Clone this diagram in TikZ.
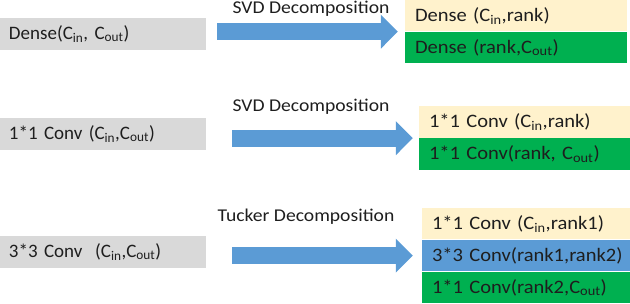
\documentclass[tikz,border=0pt]{standalone}
\usepackage{fontspec}
\setmainfont{Carlito}
\newfontfamily\cellfont{Carlito}[FakeStretch=1.08]
\newfontfamily\notefont{Carlito}[FakeStretch=1.09]
\usepackage{tikz}
\usepackage{xcolor}
\usetikzlibrary{positioning,arrows.meta}
\definecolor{boxgray}{HTML}{D9D9D9}
\definecolor{arrowblue}{HTML}{5B9BD5}
\definecolor{cellbeige}{HTML}{FFF2CC}
\definecolor{cellgreen}{HTML}{00B050}
\definecolor{inkdark}{HTML}{1E1E1E}

\tikzset{
  layer/.style={fill=boxgray, minimum height=32pt, inner xsep=9pt,
                text width=188pt, align=left, text=inkdark,
                font=\fontsize{19}{21}\selectfont},
  cell/.style={minimum height=31.5pt, inner xsep=10pt, align=left,
               text=inkdark, font=\cellfont\fontsize{19}{21}\selectfont},
  note/.style={text=inkdark, font=\notefont\fontsize{18}{20}\selectfont},
  bigarrow/.style={draw=arrowblue, line width=17pt,
                   -{Triangle[length=17pt, width=33pt]}}
}

\begin{document}
\begin{tikzpicture}[x=1pt, y=-1pt]
    \useasboundingbox (0,0) rectangle (630,304);

    % dense layer
    \node[layer] (dense) at (103,34) {Dense(C\textsubscript{in}, C\textsubscript{out})};
    \node[cell, fill=cellbeige, text width=202pt] (dense1) at (516,15.75)
      {\mbox{Dense (C\textsubscript{in},rank)}};
    \node[cell, fill=cellgreen, text width=202pt, below=0pt of dense1] (dense2)
      {\mbox{Dense (rank,C\textsubscript{out})}};
    \node[note] (svd1) at (311,9) {SVD Decomposition};
    \draw[bigarrow, shorten <=11pt, shorten >=7pt]
      (dense.east |- dense1.south west) -- (dense1.south west);

    % 1*1 conv
    \node[layer] (pointconv) at (103,134) {1*1 Conv (C\textsubscript{in},C\textsubscript{out})};
    \node[cell, fill=cellbeige, text width=191pt] (pointconv1) at (524.5,122.25)
      {\mbox{1*1 Conv (C\textsubscript{in},rank)}};
    \node[cell, fill=cellgreen, text width=191pt, below=0pt of pointconv1] (pointconv2)
      {\mbox{1*1 Conv(rank, C\textsubscript{out})}};
    \node[note] (svd2) at (311,107) {SVD Decomposition};
    \draw[bigarrow, shorten <=26pt, shorten >=6pt]
      (pointconv.east |- pointconv1.south west) -- (pointconv1.south west);

    % 3*3 conv
    \node[layer] (spatialconv) at (103,252) {3*3 Conv~~(C\textsubscript{in},C\textsubscript{out})};
    \node[cell, fill=cellbeige, text width=188pt] (tucker1) at (526,223.75)
      {\mbox{1*1 Conv (C\textsubscript{in},rank1)}};
    \node[cell, fill=arrowblue, text width=188pt, below=0pt of tucker1] (tucker2)
      {\mbox{3*3 Conv(rank1,rank2)}};
    \node[cell, fill=cellgreen, text width=188pt, below=0pt of tucker2] (tucker3)
      {\mbox{1*1 Conv(rank2,C\textsubscript{out})}};
    \node[note] (tucker) at (306,217) {Tucker Decomposition};
    \draw[bigarrow, shorten <=26pt, shorten >=9pt]
      (spatialconv.east |- tucker2.west) -- (tucker2.west);
\end{tikzpicture}
\end{document}
